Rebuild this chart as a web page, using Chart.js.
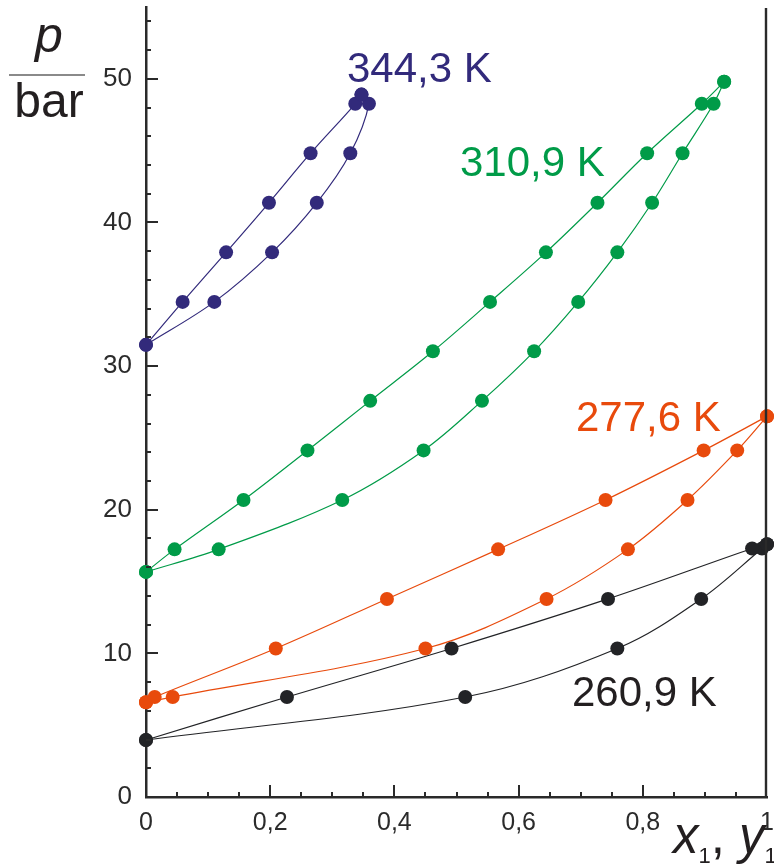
<!DOCTYPE html>
<html>
<head>
<meta charset="utf-8">
<script src="https://cdn.jsdelivr.net/npm/chart.js@4.4.1/dist/chart.umd.min.js"></script>
<style>
  html,body{margin:0;padding:0;background:#fff;}
  #wrap{position:relative;width:774px;height:864px;overflow:hidden;font-family:"Liberation Sans",Arial,sans-serif;}
  canvas{position:absolute;left:0;top:0;}
  .lbl{position:absolute;white-space:nowrap;font-size:42px;line-height:42px;}
  .ttl{position:absolute;white-space:nowrap;color:#231f20;}
  .ttl sub{font-size:22px;font-style:normal;vertical-align:-10px;line-height:0;}
</style>
</head>
<body>
<div id="wrap">
  <canvas id="c" width="774" height="864"></canvas>
  <div class="ttl" style="left:2px;width:94px;text-align:center;top:10px;font-size:50px;line-height:50px;font-style:italic;">p</div>
  <div style="position:absolute;left:9px;top:74px;width:76px;height:2px;background:#8a8a8a;"></div>
  <div class="ttl" style="left:2px;width:94px;text-align:center;top:77px;font-size:48px;line-height:48px;">bar</div>
  <div class="ttl" style="left:673px;top:810px;font-size:51px;line-height:51px;"><i>x</i><sub>1</sub>, <i>y</i><sub>1</sub></div>
  <div class="lbl" style="left:347px;top:47px;color:#322a7b;">344,3 K</div>
  <div class="lbl" style="left:460px;top:141px;color:#009b48;">310,9 K</div>
  <div class="lbl" style="left:576px;top:396px;color:#e84a0c;">277,6 K</div>
  <div class="lbl" style="left:572px;top:671px;color:#231f20;">260,9 K</div>
</div>
<script>
// ---- data (x1 / y1 mole fraction, pressure in bar) ----
const t344BubbleX = [0, 0.059, 0.129, 0.198, 0.265, 0.337, 0.347];
const t344BubbleP = [31.48, 34.47, 37.92, 41.37, 44.82, 48.26, 48.9];
const t344DewX    = [0, 0.110, 0.203, 0.275, 0.329, 0.359, 0.347];
const t344DewP    = [31.48, 34.47, 37.92, 41.37, 44.82, 48.26, 48.9];

const t311BubbleX = [0, 0.046, 0.157, 0.260, 0.361, 0.462, 0.554, 0.644, 0.727, 0.807, 0.895, 0.931];
const t311BubbleP = [15.67, 17.24, 20.68, 24.13, 27.58, 31.03, 34.47, 37.92, 41.37, 44.82, 48.26, 49.8];
const t311DewX    = [0, 0.117, 0.316, 0.447, 0.541, 0.625, 0.696, 0.759, 0.815, 0.864, 0.914, 0.931];
const t311DewP    = [15.67, 17.24, 20.68, 24.13, 27.58, 31.03, 34.47, 37.92, 41.37, 44.82, 48.26, 49.8];

const t278BubbleX = [0, 0.014, 0.209, 0.388, 0.567, 0.740, 0.898, 1.0];
const t278BubbleP = [6.6, 6.96, 10.34, 13.79, 17.24, 20.68, 24.13, 26.5];
const t278DewX    = [0, 0.043, 0.450, 0.645, 0.776, 0.872, 0.952, 1.0];
const t278DewP    = [6.6, 6.96, 10.34, 13.79, 17.24, 20.68, 24.13, 26.5];

const t261BubbleX = [0, 0.227, 0.492, 0.744, 0.976, 1.0];
const t261BubbleP = [3.97, 6.96, 10.34, 13.79, 17.3, 17.6];
const t261DewX    = [0, 0.514, 0.759, 0.894, 0.992, 1.0];
const t261DewP    = [3.97, 6.96, 10.34, 13.79, 17.3, 17.6];

const xTickValues = [0, 0.2, 0.4, 0.6, 0.8, 1];
const xTickLabels = ["0", "0,2", "0,4", "0,6", "0,8", "1"];
const yTickValues = [0, 10, 20, 30, 40, 50];
const yTickLabels = ["0", "10", "20", "30", "40", "50"];

// ---- styling ----
const COLORS = {t344:'#322a7b', t311:'#009b48', t278:'#e84a0c', t261:'#222326'};
const AXIS = '#2a2a2a';

function pts(xs, ps){ return xs.map((x,i)=>({x:x, y:ps[i]})); }
function ds(xs, ps, color){
  return {data: pts(xs, ps), showLine:true, borderColor:color, backgroundColor:color,
          borderWidth:1.2, pointRadius:7, pointHoverRadius:7, pointBorderWidth:0,
          tension:0.35, clip:false};
}

const inwardTicks = {
  id:'inwardTicks',
  afterDraw(chart){
    const {ctx, chartArea:a, scales:{x, y}} = chart;
    ctx.save();
    ctx.strokeStyle = AXIS;
    ctx.lineWidth = 2;
    ctx.beginPath();
    for (let i = 1; i < 20; i++) {
      const px = Math.round(x.getPixelForValue(i*0.05));
      const len = (i % 4 === 0) ? 12 : 5;
      ctx.moveTo(px, a.bottom); ctx.lineTo(px, a.bottom - len);
    }
    for (let v = 2; v <= 54; v += 2) {
      const py = Math.round(y.getPixelForValue(v));
      const len = (v % 10 === 0) ? 12 : 5;
      ctx.moveTo(a.left, py); ctx.lineTo(a.left + len, py);
    }
    ctx.stroke();
    ctx.beginPath();
    ctx.lineWidth = 2.4;
    ctx.moveTo(a.right - 1, a.top + 1); ctx.lineTo(a.right - 1, a.bottom);
    ctx.stroke();
    ctx.restore();
  }
};

new Chart(document.getElementById('c'), {
  type:'scatter',
  data:{datasets:[
    ds(t344BubbleX, t344BubbleP, COLORS.t344),
    ds(t344DewX, t344DewP, COLORS.t344),
    ds(t311BubbleX, t311BubbleP, COLORS.t311),
    ds(t311DewX, t311DewP, COLORS.t311),
    ds(t278BubbleX, t278BubbleP, COLORS.t278),
    ds(t278DewX, t278DewP, COLORS.t278),
    ds(t261BubbleX, t261BubbleP, COLORS.t261),
    ds(t261DewX, t261DewP, COLORS.t261)
  ]},
  options:{
    responsive:false, animation:false, devicePixelRatio:1,
    layout:{padding:{top:7, right:2, left:0, bottom:0}},
    plugins:{legend:{display:false}, tooltip:{enabled:false}},
    scales:{
      x:{type:'linear', min:0, max:1,
         grid:{display:false, drawTicks:false},
         border:{display:true, color:AXIS, width:2.5},
         ticks:{padding:11, color:'#2b2b2b', font:{family:'"Liberation Sans", Arial', size:25},
                callback:(v)=>{const i = xTickValues.findIndex(t=>Math.abs(t-v)<1e-9); return i>=0 ? xTickLabels[i] : '';}},
         afterBuildTicks:(s)=>{ s.ticks = xTickValues.map(v=>({value:v})); },
         afterFit:(s)=>{ s.height = 67; s.paddingLeft = 0; s.paddingRight = 0; }
      },
      y:{type:'linear', min:0, max:55,
         grid:{display:false, drawTicks:false},
         border:{display:true, color:AXIS, width:2.5},
         ticks:{padding:14, color:'#2b2b2b', font:{family:'"Liberation Sans", Arial', size:26},
                callback:(v)=>{const i = yTickValues.indexOf(v); return i>=0 ? yTickLabels[i] : '';}},
         afterBuildTicks:(s)=>{ s.ticks = yTickValues.map(v=>({value:v})); },
         afterFit:(s)=>{ s.width = 146; s.paddingTop = 0; s.paddingBottom = 0; }
      }
    }
  },
  plugins:[inwardTicks]
});
</script>
</body>
</html>
